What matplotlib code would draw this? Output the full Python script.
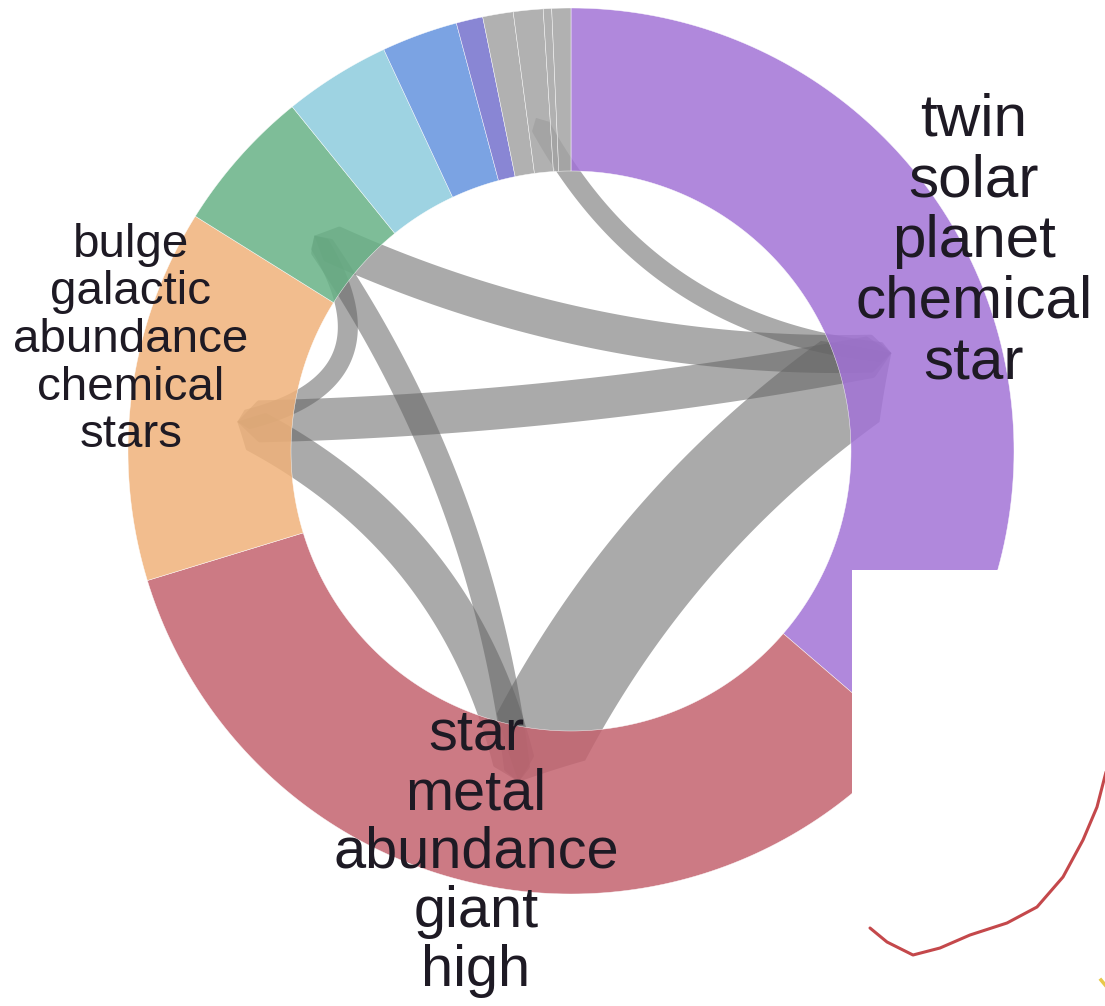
import numpy as np
import matplotlib.pyplot as plt
from matplotlib.patches import Polygon, Rectangle

# дуги кольца: размеры в градусах (по часовой от верха) и цвета
group_sizes = [130.7, 122.3, 49.0, 19.0, 14.0, 10.0, 3.5, 4.0, 3.9, 1.1, 2.5]
group_colors = ['#a273d6', '#c3636f', '#f0b27a', '#67b286', '#8dccdd', '#6493de',
                '#7571cd', '#a4a4a4', '#a4a4a4', '#a4a4a4', '#a4a4a4']

# точки сбора лент для тем (градусы)
hub_deg = {0: 73, 1: 189, 2: 275, 3: 310, 8: 354}

# ленты: откуда, куда, толщина
chord_src = [8, 3, 2, 1, 2, 3, 3]
chord_dst = [0, 0, 0, 0, 1, 1, 2]
chord_val = [20, 38, 42, 100, 42, 26, 20]

# подписи тем
label_words = [
    ['twin', 'solar', 'planet', 'chemical', 'star'],
    ['star', 'metal', 'abundance', 'giant', 'high'],
    ['bulge', 'galactic', 'abundance', 'chemical', 'stars'],
]

# красный росчерк в правом нижнем углу
stroke_x = [870, 887, 913, 940, 970, 1007, 1037, 1063, 1083, 1097, 1106]
stroke_y = [928, 942, 955, 948, 935, 923, 907, 877, 840, 807, 772]

W, H = 1105, 1006
CX, CY = 571, 451
R_OUT, R_IN, R_TIP = 443, 280, 335


def polar(theta, r):
    t = np.radians(theta)
    return np.array([CX + r * np.sin(t), CY - r * np.cos(t)])


def wedge(a0, a1):
    th = np.linspace(a0, a1, 120)
    outer = np.array([polar(t, R_OUT) for t in th])
    inner = np.array([polar(t, R_IN) for t in th[::-1]])
    return np.vstack([outer, inner])


def ribbon(a, b, width, k=0.55):
    p0, p2 = polar(a, R_TIP), polar(b, R_TIP)
    c = np.array([CX, CY])
    ctrl = c + k * ((p0 + p2) / 2 - c)
    t = np.linspace(0, 1, 400)[:, None]
    pts = (1 - t) ** 2 * p0 + 2 * (1 - t) * t * ctrl + t ** 2 * p2
    d = np.gradient(pts, axis=0)
    n = np.stack([-d[:, 1], d[:, 0]], 1) / np.hypot(d[:, 0], d[:, 1])[:, None]
    s = np.concatenate([[0], np.cumsum(np.hypot(*np.diff(pts, axis=0).T))])
    hw = np.minimum(width / 2, np.minimum(s, s[-1] - s))
    return np.vstack([pts + n * hw[:, None], (pts - n * hw[:, None])[::-1]])


fig = plt.figure(figsize=(W / 100, H / 100), dpi=100)
ax = fig.add_axes([0, 0, 1, 1])
ax.set_xlim(0, W)
ax.set_ylim(H, 0)
ax.axis('off')

# ленты (под кольцом)
for s, d, v in zip(chord_src, chord_dst, chord_val):
    ax.add_patch(Polygon(ribbon(hub_deg[s], hub_deg[d], v), closed=True,
                         fc='#646464', ec='none', alpha=0.55, zorder=1))

# кольцо
edges = np.concatenate([[0], np.cumsum(group_sizes)])
for i, col in enumerate(group_colors):
    ax.add_patch(Polygon(wedge(edges[i], edges[i + 1]), closed=True, fc=col,
                         ec='white', lw=0.35, alpha=0.85, zorder=2))

# белый прямоугольник поверх
ax.add_patch(Rectangle((852, 570), W - 852, H - 570, fc='white', ec='none', zorder=3))

# подписи
layout = [(974, 135, 61, 43.4), (476, 750, 59, 41.5), (131, 257, 47.5, 34.2)]
for words, (x, y0, step, fs) in zip(label_words, layout):
    for j, w in enumerate(words):
        ax.text(x, y0 + j * step, w, ha='center', va='baseline', fontsize=fs,
                family='Liberation Sans', color='#1e1a24', zorder=4)

ax.plot(stroke_x, stroke_y, color='#c4484b', lw=2.2, solid_capstyle='round',
        solid_joinstyle='round', zorder=5)
ax.plot([1101, 1106], [980, 986], color='#e8c84a', lw=2.5, zorder=5)

fig.savefig('out.png', dpi=100)
